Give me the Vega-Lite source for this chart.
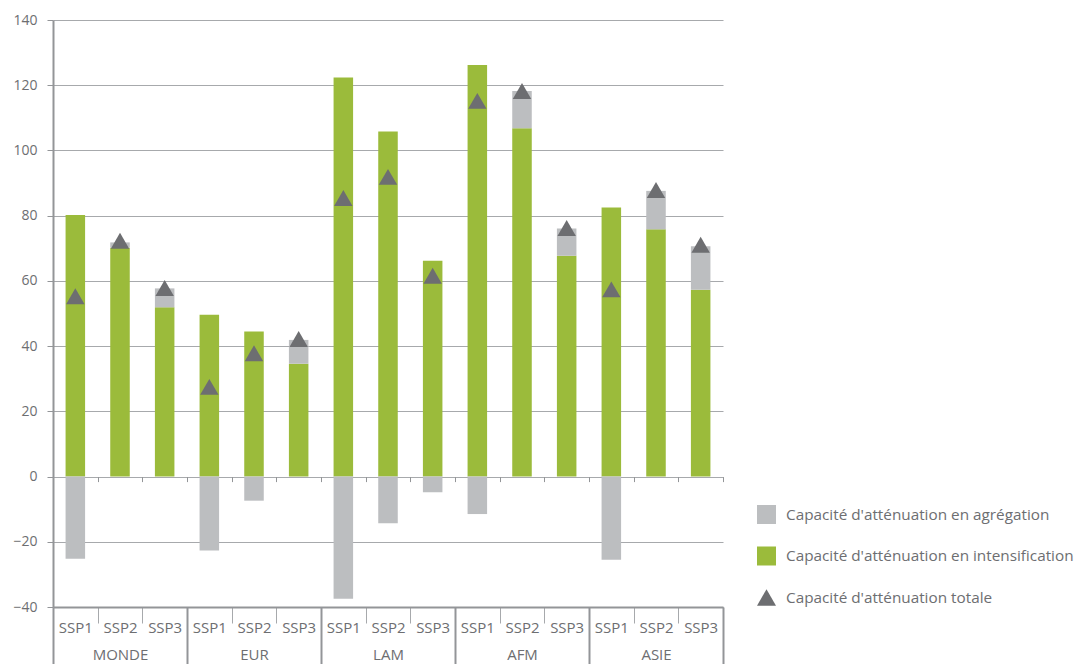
{
  "$schema": "https://vega.github.io/schema/vega-lite/v6.json",
  "width": 670,
  "height": 587,
  "autosize": {"type": "none"},
  "padding": {"left": 53, "top": 20, "right": 362, "bottom": 57},
  "background": "white",
  "config": {
    "view": {"stroke": null},
    "font": "Open Sans",
    "axis": {"labelFont": "Open Sans", "labelColor": "#6d6e71", "labelFontSize": 15, "titleFont": "Open Sans"},
    "legend": {"labelFont": "Open Sans"}
  },
  "datasets": {
    "bars": [
      {"cat": "MONDE|SSP1", "serie": "int", "v": 80.2},
      {"cat": "MONDE|SSP1", "serie": "agr", "v": -25.2},
      {"cat": "MONDE|SSP2", "serie": "int", "v": 70.2},
      {"cat": "MONDE|SSP2", "serie": "agr", "v": 1.6},
      {"cat": "MONDE|SSP3", "serie": "int", "v": 51.9},
      {"cat": "MONDE|SSP3", "serie": "agr", "v": 5.8},
      {"cat": "EUR|SSP1", "serie": "int", "v": 49.6},
      {"cat": "EUR|SSP1", "serie": "agr", "v": -22.7},
      {"cat": "EUR|SSP2", "serie": "int", "v": 44.5},
      {"cat": "EUR|SSP2", "serie": "agr", "v": -7.4},
      {"cat": "EUR|SSP3", "serie": "int", "v": 34.6},
      {"cat": "EUR|SSP3", "serie": "agr", "v": 7.3},
      {"cat": "LAM|SSP1", "serie": "int", "v": 122.4},
      {"cat": "LAM|SSP1", "serie": "agr", "v": -37.5},
      {"cat": "LAM|SSP2", "serie": "int", "v": 105.8},
      {"cat": "LAM|SSP2", "serie": "agr", "v": -14.3},
      {"cat": "LAM|SSP3", "serie": "int", "v": 66.2},
      {"cat": "LAM|SSP3", "serie": "agr", "v": -4.8},
      {"cat": "AFM|SSP1", "serie": "int", "v": 126.2},
      {"cat": "AFM|SSP1", "serie": "agr", "v": -11.5},
      {"cat": "AFM|SSP2", "serie": "int", "v": 106.8},
      {"cat": "AFM|SSP2", "serie": "agr", "v": 11.4},
      {"cat": "AFM|SSP3", "serie": "int", "v": 67.7},
      {"cat": "AFM|SSP3", "serie": "agr", "v": 8.4},
      {"cat": "ASIE|SSP1", "serie": "int", "v": 82.5},
      {"cat": "ASIE|SSP1", "serie": "agr", "v": -25.5},
      {"cat": "ASIE|SSP2", "serie": "int", "v": 75.8},
      {"cat": "ASIE|SSP2", "serie": "agr", "v": 11.8},
      {"cat": "ASIE|SSP3", "serie": "int", "v": 57.3},
      {"cat": "ASIE|SSP3", "serie": "agr", "v": 13.3}
    ],
    "tot": [
      {"cat": "MONDE|SSP1", "tot": 55.3},
      {"cat": "MONDE|SSP2", "tot": 72.3},
      {"cat": "MONDE|SSP3", "tot": 57.8},
      {"cat": "EUR|SSP1", "tot": 27.5},
      {"cat": "EUR|SSP2", "tot": 37.8},
      {"cat": "EUR|SSP3", "tot": 42.2},
      {"cat": "LAM|SSP1", "tot": 85.4},
      {"cat": "LAM|SSP2", "tot": 91.9},
      {"cat": "LAM|SSP3", "tot": 61.6},
      {"cat": "AFM|SSP1", "tot": 115.2},
      {"cat": "AFM|SSP2", "tot": 118.2},
      {"cat": "AFM|SSP3", "tot": 76.2},
      {"cat": "ASIE|SSP1", "tot": 57.4},
      {"cat": "ASIE|SSP2", "tot": 87.9},
      {"cat": "ASIE|SSP3", "tot": 71.1}
    ]
  },
  "resolve": {"axis": {"x": "independent"}},
  "layer": [
    {
      "data": {"name": "bars"},
      "mark": {"type": "bar", "width": {"band": 0.437}},
      "encoding": {
        "x": {
          "field": "cat", "type": "nominal", "sort": null,
          "scale": {"paddingInner": 0, "paddingOuter": 0},
          "axis": {
            "orient": "bottom", "title": null, "labelAngle": 0,
            "labelExpr": "split(datum.value, '|')[1]",
            "tickBand": "extent", "tickSize": 16, "tickColor": "#a7a9ac", "tickWidth": 1,
            "labelBaseline": "middle", "labelPadding": 4.5,
            "domainColor": "#939598", "domainWidth": 2, "grid": false
          }
        },
        "y": {
          "field": "v", "type": "quantitative", "stack": "zero",
          "scale": {"domain": [-40, 140], "nice": false},
          "axis": {
            "title": null, "values": [-40, -20, 0, 20, 40, 60, 80, 100, 120, 140],
            "grid": true, "gridColor": "#a7a9ac", "gridWidth": 1,
            "domainColor": "#939598", "domainWidth": 2,
            "tickColor": "#939598", "tickSize": 6, "labelPadding": 10, "labelFontSize": 14
          }
        },
        "color": {
          "field": "serie", "type": "nominal",
          "scale": {"domain": ["agr", "int", "tot"], "range": ["#bcbec0", "#9bbb3b", "#6d6e71"]},
          "legend": {
            "title": null, "orient": "none", "legendX": 704, "legendY": 485, "padding": 0,
            "symbolType": "square", "symbolSize": 361, "symbolOpacity": 1, "symbolStrokeWidth": 0,
            "labelFontSize": 15.3, "labelColor": "#6d6e71", "labelOffset": 10, "rowPadding": 22.5, "labelLimit": 0,
            "labelExpr": "datum.value == 'agr' ? 'Capacité d\\'atténuation en agrégation' : datum.value == 'int' ? 'Capacité d\\'atténuation en intensification' : 'Capacité d\\'atténuation totale'",
            "encode": {"symbols": {"update": {"shape": {"signal": "datum.value == 'tot' ? 'triangle-up' : 'square'"}}}}
          }
        },
        "order": {"field": "serie", "sort": "descending"}
      }
    },
    {
      "data": {"name": "tot"},
      "mark": {"type": "point", "shape": "triangle-up", "filled": true, "opacity": 1, "size": 340, "strokeWidth": 0},
      "encoding": {
        "x": {
          "field": "cat", "type": "nominal", "sort": null,
          "axis": {
            "orient": "bottom", "title": null, "labelAngle": 0,
            "labelExpr": "datum.value && indexof(datum.value, 'SSP2') >= 0 ? split(datum.value, '|')[0] : ''",
            "tickBand": "extent", "tickSize": 57, "tickWidth": 2, "tickColor": "#939598",
            "tickOpacity": {"condition": {"test": "!datum.value || indexof(datum.value, 'SSP3') >= 0", "value": 1}, "value": 0},
            "labelBaseline": "middle", "labelPadding": -9.5, "domain": false, "grid": false
          }
        },
        "y": {"field": "tot", "type": "quantitative"},
        "color": {"datum": "tot"}
      }
    },
    {
      "data": {"name": "tot"},
      "mark": {"type": "text", "text": ""},
      "encoding": {
        "x": {
          "field": "cat", "type": "nominal", "sort": null,
          "axis": {
            "orient": "bottom", "title": null, "labels": false, "domain": false, "grid": false,
            "tickBand": "extent", "tickSize": 5, "tickColor": "#939598", "tickWidth": 1, "offset": -130.4
          }
        },
        "y": {"field": "tot", "type": "quantitative"}
      }
    }
  ]
}
